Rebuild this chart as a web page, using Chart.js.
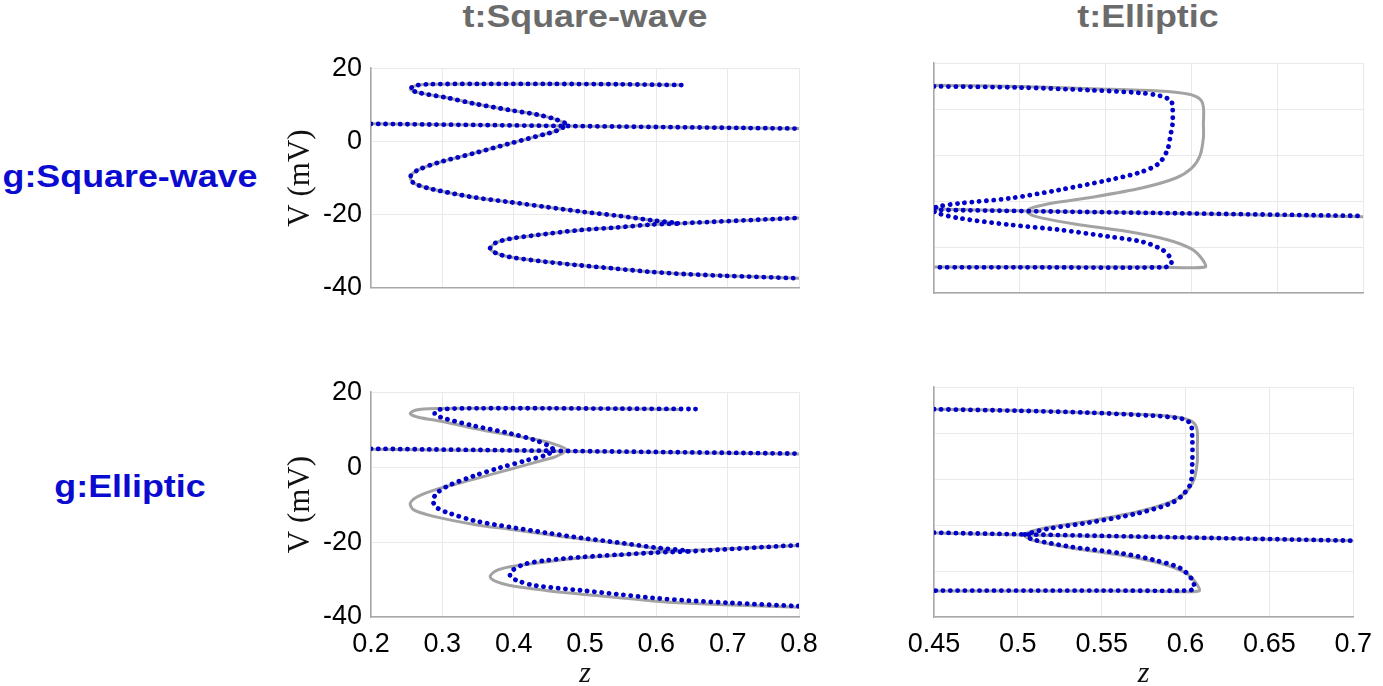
<!DOCTYPE html>
<html>
<head>
<meta charset="utf-8">
<script src="https://cdn.jsdelivr.net/npm/chart.js@4.4.1/dist/chart.umd.min.js"></script>
<style>
  body { margin: 0; width: 1383px; height: 686px; overflow: hidden; background: #fff; position: relative; }
  canvas { position: absolute; }
  .lbl { position: absolute; font-family: 'Liberation Sans', Arial, sans-serif; font-weight: bold; font-size: 32px;
         line-height: 32px; white-space: nowrap; transform: translateX(-50%) scaleX(1.12); }
  .col { color: #6b6b6b; top: 0px; }
  .row { color: #0a0ad0; }
</style>
</head>
<body>
<div class="lbl col" style="left:585px">t:Square-wave</div>
<div class="lbl col" style="left:1148px">t:Elliptic</div>
<div class="lbl row" style="left:130px; top:160px">g:Square-wave</div>
<div class="lbl row" style="left:130px; top:470px">g:Elliptic</div>

<canvas id="p11" width="568" height="270" style="left:261px; top:43px"></canvas>
<canvas id="p12" width="489" height="270" style="left:894px; top:43px"></canvas>
<canvas id="p21" width="568" height="325" style="left:261px; top:367px"></canvas>
<canvas id="p22" width="489" height="325" style="left:894px; top:367px"></canvas>

<script>
// tick values
const zTicksSquare = [0.2, 0.3, 0.4, 0.5, 0.6, 0.7, 0.8];
const zTicksElliptic = [0.45, 0.5, 0.55, 0.6, 0.65, 0.7];
const vTicksLeft = [-40, -20, 0, 20];
const vTicksRight = [-40, -28, -16, -4, 8, 20];

// target curves (grey), [z, V]
const tSquareMain = [
  [0.635, 15.4], [0.55, 15.6], [0.45, 15.7], [0.35, 15.7], [0.28, 15.6], [0.262, 15.2], [0.255, 14.3],
  [0.265, 13.4], [0.305, 12.0], [0.345, 10.3], [0.395, 8.55], [0.435, 7.25], [0.46, 5.95], [0.474, 4.6],
  [0.46, 2.9], [0.445, 2.05], [0.395, -0.55], [0.345, -3.2], [0.295, -5.75], [0.265, -7.9], [0.255, -9.7],
  [0.26, -11.4], [0.285, -13.0], [0.345, -15.3], [0.395, -16.6], [0.445, -17.9], [0.495, -19.2],
  [0.545, -20.3], [0.595, -21.6], [0.63, -22.4], [0.595, -22.7], [0.545, -23.5], [0.495, -24.2],
  [0.445, -25.3], [0.395, -26.6], [0.375, -27.7], [0.367, -29.2], [0.375, -30.5], [0.395, -31.6],
  [0.445, -32.9], [0.495, -33.9], [0.545, -34.8], [0.595, -35.7], [0.645, -36.3], [0.695, -36.7], [0.8, -37.4]
];
const tSquareMid = [[0.2, 4.8], [0.8, 3.5]];
const tSquareLow = [[0.63, -22.4], [0.8, -20.9]];

const tEllipticMain = [
  [0.45, 14.2], [0.5, 13.9], [0.542, 13.3], [0.581, 12.7], [0.598, 11.9], [0.605, 10.6], [0.607, 8.5],
  [0.607, 4.0], [0.607, 0.5], [0.605, -4.2], [0.6, -7.5], [0.591, -10.0], [0.571, -12.6], [0.542, -15.0],
  [0.521, -16.4], [0.507, -17.8], [0.504, -18.7], [0.509, -20.0], [0.532, -22.0], [0.562, -23.9],
  [0.586, -26.1], [0.6, -28.5], [0.606, -31.0], [0.608, -33.2], [0.58, -33.2], [0.5, -33.2], [0.45, -33.2]
];
const tEllipticMid = [[0.45, -18.1], [0.504, -18.6], [0.7, -20.1]];

// model curves (blue dotted)
// g:Square-wave on t:Square-wave lies on the target curve
const gSqOnSqMain = tSquareMain;
const gSqOnSqMid = tSquareMid;
const gSqOnSqLow = tSquareLow;

const gSqOnEllMain = [
  [0.45, 13.9], [0.5, 13.6], [0.542, 12.9], [0.57, 12.2], [0.582, 11.4], [0.588, 10.2], [0.589, 8.6],
  [0.589, 4.0], [0.588, 1.6], [0.586, -2.7], [0.581, -6.2], [0.571, -8.4], [0.552, -10.5], [0.523, -13.1],
  [0.494, -15.3], [0.465, -16.6], [0.452, -17.5], [0.449, -18.3], [0.452, -19.2], [0.465, -20.5],
  [0.494, -22.2], [0.523, -23.5], [0.552, -25.3], [0.571, -26.6], [0.583, -28.7], [0.588, -31.0],
  [0.588, -32.6], [0.584, -33.3], [0.5, -33.3], [0.45, -33.3]
];
const gSqOnEllMid = [[0.45, -18.3], [0.7, -19.9]];

const gEllOnSqMain = [
  [0.655, 15.5], [0.55, 15.6], [0.45, 15.7], [0.35, 15.7], [0.3, 15.5], [0.29, 14.9], [0.29, 14.0],
  [0.305, 12.9], [0.345, 11.0], [0.395, 9.0], [0.43, 7.2], [0.45, 5.6], [0.456, 4.5], [0.445, 3.2],
  [0.42, 1.9], [0.38, -0.2], [0.345, -2.3], [0.31, -4.8], [0.292, -7.0], [0.287, -9.0], [0.292, -10.8],
  [0.31, -12.3], [0.345, -14.3], [0.395, -16.0], [0.445, -17.5], [0.495, -18.9], [0.545, -20.1],
  [0.6, -21.5], [0.645, -22.4], [0.6, -22.8], [0.545, -23.4], [0.495, -24.0], [0.445, -24.9],
  [0.415, -25.9], [0.398, -27.6], [0.395, -29.0], [0.405, -30.3], [0.43, -31.6], [0.495, -32.9],
  [0.545, -33.9], [0.595, -34.9], [0.645, -35.6], [0.7, -36.2], [0.8, -37.1]
];
const gEllOnSqMid = [[0.2, 4.9], [0.8, 3.6]];
const gEllOnSqLow = [[0.645, -22.5], [0.8, -20.8]];

const gEllOnEllMain = [
  [0.45, 14.2], [0.5, 13.8], [0.542, 13.3], [0.581, 12.5], [0.598, 11.7], [0.603, 10.4], [0.604, 6.9],
  [0.604, 0.0], [0.603, -5.2], [0.598, -8.3], [0.591, -10.4], [0.571, -13.0], [0.542, -15.4],
  [0.519, -16.9], [0.507, -18.1], [0.504, -18.6], [0.509, -19.8], [0.532, -21.7], [0.562, -23.4],
  [0.581, -25.1], [0.597, -27.3], [0.604, -30.3], [0.605, -32.6], [0.6, -33.1], [0.55, -33.1], [0.45, -33.1]
];
const gEllOnEllMid = [[0.45, -18.0], [0.7, -20.1]];

Chart.defaults.font.family = "'Liberation Sans', Arial, sans-serif";

const tickFont = { family: "'Liberation Sans', Arial, sans-serif", size: 27 };
const gridColor = '#e9e9e9';
const axisColor = '#a8a8a8';

function pts(arr) {
  return arr.map(p => ({ x: p[0], y: p[1] }));
}

function grey(arr) {
  return {
    data: pts(arr), showLine: true, pointRadius: 0, tension: 0.3,
    borderColor: '#a3a3a3', borderWidth: 3, borderCapStyle: 'round', borderJoinStyle: 'round', order: 2
  };
}

function blue(arr) {
  return {
    data: pts(arr), showLine: true, pointRadius: 0, tension: 0.3,
    borderColor: '#0000c8', borderWidth: 4.8, borderDash: [0.1, 7.2], borderCapStyle: 'round', order: 1
  };
}

function axes(zTicks, vTicks, showZ, showV) {
  return {
    x: {
      type: 'linear', min: zTicks[0], max: zTicks[zTicks.length - 1],
      afterBuildTicks: s => { s.ticks = zTicks.map(v => ({ value: v })); },
      afterFit: s => { s.height = showZ ? 75 : 5; },
      ticks: { display: showZ, autoSkip: false, maxRotation: 0, padding: 11, font: tickFont, color: '#000',
               callback: v => String(v) },
      grid: { color: gridColor, drawTicks: false },
      border: { color: axisColor, width: 1.5 },
      title: { display: showZ, text: 'z', color: '#111', padding: { top: 0, bottom: 0 },
               font: { family: "'Liberation Serif', serif", size: 30, style: 'italic' } }
    },
    y: {
      type: 'linear', min: vTicks[0], max: vTicks[vTicks.length - 1],
      afterBuildTicks: s => { s.ticks = vTicks.map(v => ({ value: v })); },
      afterFit: s => { s.width = showV ? 110 : 40; },
      ticks: { display: showV, autoSkip: false, padding: 9, font: tickFont, color: '#000',
               callback: v => String(v) },
      grid: { color: gridColor, drawTicks: false },
      border: { color: axisColor, width: 1.5 },
      title: { display: showV, text: 'V (mV)', color: '#111', padding: { top: 21, bottom: 0 },
               font: { family: "'Liberation Serif', serif", size: 31 } }
    }
  };
}

function panel(id, greys, blues, zTicks, vTicks, showZ, showV, right) {
  new Chart(document.getElementById(id), {
    type: 'scatter',
    data: { datasets: blues.map(blue).concat(greys.map(grey)) },
    options: {
      responsive: false,
      animation: false,
      layout: { padding: { top: 20, right: right, bottom: showZ ? 0 : 15, left: 0 } },
      plugins: { legend: { display: false }, tooltip: { enabled: false } },
      scales: axes(zTicks, vTicks, showZ, showV)
    }
  });
}

panel('p11', [tSquareMain, tSquareMid, tSquareLow], [gSqOnSqMain, gSqOnSqMid, gSqOnSqLow],
      zTicksSquare, vTicksLeft, false, true, 30);
panel('p12', [tEllipticMain, tEllipticMid], [gSqOnEllMain, gSqOnEllMid],
      zTicksElliptic, vTicksRight, false, false, 20);
panel('p21', [tSquareMain, tSquareMid, tSquareLow], [gEllOnSqMain, gEllOnSqMid, gEllOnSqLow],
      zTicksSquare, vTicksLeft, true, true, 30);
panel('p22', [tEllipticMain, tEllipticMid], [gEllOnEllMain, gEllOnEllMid],
      zTicksElliptic, vTicksRight, true, false, 20);
</script>
</body>
</html>
